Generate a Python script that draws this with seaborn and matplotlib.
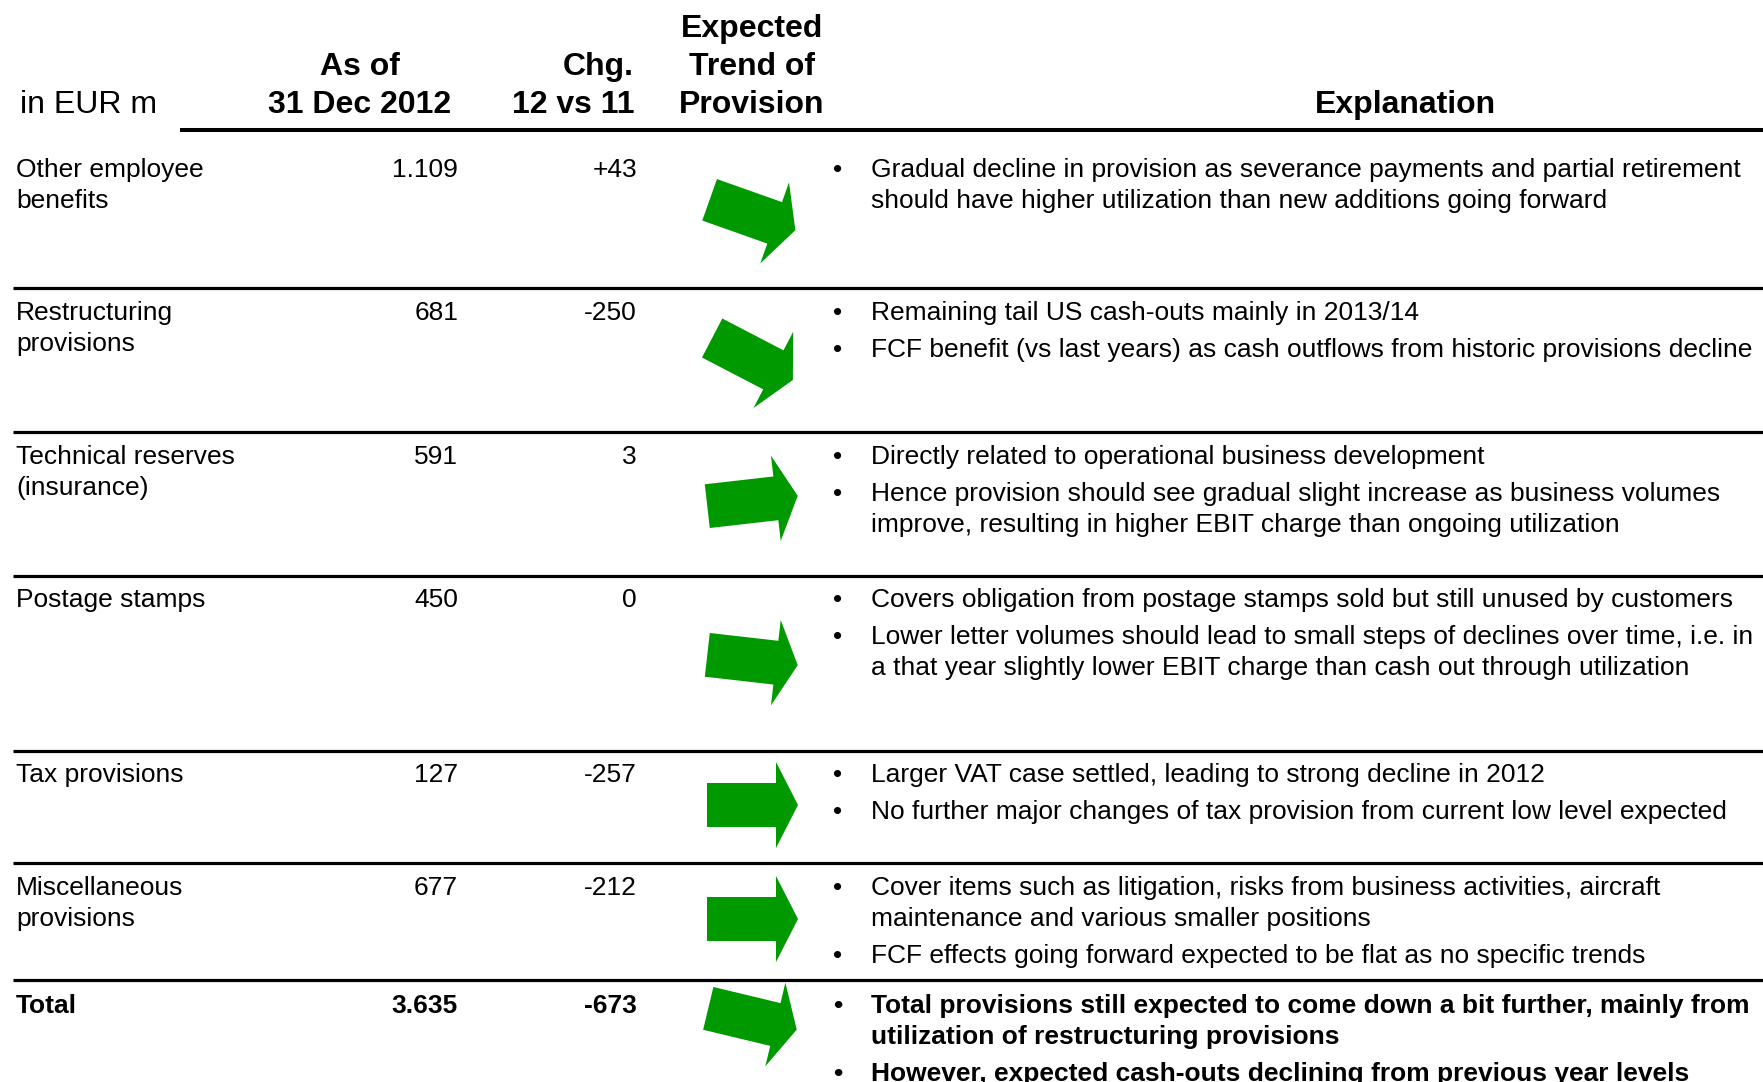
import numpy as np
import matplotlib
matplotlib.use("Agg")
import matplotlib.pyplot as plt
from matplotlib.patches import Polygon
import seaborn as sns

# ---- table content -------------------------------------------------------
categories = [
    ["Other employee", "benefits"],
    ["Restructuring", "provisions"],
    ["Technical reserves", "(insurance)"],
    ["Postage stamps"],
    ["Tax provisions"],
    ["Miscellaneous", "provisions"],
    ["Total"],
]
provision_2012 = [1109, 681, 591, 450, 127, 677, 3635]          # EUR m
change_labels = ["+43", "-250", "3", "0", "-257", "-212", "-673"]  # 12 vs 11
trend_angle = [-19.5, -27.5, 6.5, -6.5, 0.0, 0.0, -13.5]        # arrow direction, degrees

explanations = [
    [["Gradual decline in provision as severance payments and partial retirement",
      "should have higher utilization than new additions going forward"]],
    [["Remaining tail US cash-outs mainly in 2013/14"],
     ["FCF benefit (vs last years) as cash outflows from historic provisions decline"]],
    [["Directly related to operational business development"],
     ["Hence provision should see gradual slight increase as business volumes",
      "improve, resulting in higher EBIT charge than ongoing utilization"]],
    [["Covers obligation from postage stamps sold but still unused by customers"],
     ["Lower letter volumes should lead to small steps of declines over time, i.e. in",
      "a that year slightly lower EBIT charge than cash out through utilization"]],
    [["Larger VAT case settled, leading to strong decline in 2012"],
     ["No further major changes of tax provision from current low level expected"]],
    [["Cover items such as litigation, risks from business activities, aircraft",
      "maintenance and various smaller positions"],
     ["FCF effects going forward expected to be flat as no specific trends"]],
    [["Total provisions still expected to come down a bit further, mainly from",
      "utilization of restructuring provisions"],
     ["However, expected cash-outs declining from previous year levels"]],
]


def fmt_eur(v):
    return f"{v:,}".replace(",", ".")


# ---- style ---------------------------------------------------------------
sns.set_theme(style="white", rc={"text.color": "black"})
plt.rcParams["font.family"] = ["Liberation Sans", "DejaVu Sans"]

W, H = 1763, 1082
fig = plt.figure(figsize=(W / 100, H / 100), dpi=100)
ax = fig.add_axes([0, 0, 1, 1])
ax.set_xlim(0, W)
ax.set_ylim(H, 0)
ax.axis("off")
sns.despine(ax=ax, left=True, bottom=True)

GREEN = "#009900"
INK = "black"
BODY = 19
HEAD = 23
LINE_STEP = 31
BULLET_GAP = 37

# column anchors (pixels)
X_LABEL = 16
X_VALUE = 458
X_CHG = 637
X_ARROW = 752.5
X_BULLET = 838
X_EXPL = 871

# ---- header --------------------------------------------------------------
hdr = dict(fontsize=HEAD, color=INK, va="baseline")
ax.text(20, 113, "in EUR m", ha="left", **hdr)
ax.text(360, 75, "As of", weight="bold", ha="center", **hdr)
ax.text(360, 113, "31 Dec 2012", weight="bold", ha="center", **hdr)
ax.text(634, 75, "Chg.", weight="bold", ha="right", **hdr)
ax.text(634, 113, "12 vs 11", weight="bold", ha="right", **hdr)
for yb, t in zip([37, 75, 113], ["Expected", "Trend of", "Provision"]):
    ax.text(752, yb, t, weight="bold", ha="center", **hdr)
ax.text(1405, 113, "Explanation", weight="bold", ha="center", **hdr)
ax.plot([180, W], [129.5, 129.5], color=INK, lw=2.9, solid_capstyle="butt")

# ---- rows ----------------------------------------------------------------
first_baseline = [177, 320, 464, 607, 782, 895, 1013]
separators = [288, 432, 576, 751, 863, 980]
arrow_y = [215, 359, 501, 660, 805, 919, 1019]

# arrow outline in local units (forward, up), centred on the arrow
arrow_shape = np.array([
    (-45.5, 22), (23.5, 22), (23.5, 43), (45.5, 0),
    (23.5, -43), (23.5, -22), (-45.5, -22),
])

for i, label_lines in enumerate(categories):
    is_total = i == len(categories) - 1
    txt = dict(fontsize=BODY, color=INK, va="baseline",
               weight="bold" if is_total else "normal")
    yb = first_baseline[i]

    for k, line in enumerate(label_lines):
        ax.text(X_LABEL, yb + k * LINE_STEP, line, ha="left", **txt)
    ax.text(X_VALUE, yb, fmt_eur(provision_2012[i]), ha="right", **txt)
    ax.text(X_CHG, yb, change_labels[i], ha="right", **txt)

    # trend arrow
    th = np.deg2rad(trend_angle[i])
    u, v = arrow_shape[:, 0], arrow_shape[:, 1]
    px = X_ARROW + u * np.cos(th) - v * np.sin(th)
    py = arrow_y[i] - (u * np.sin(th) + v * np.cos(th))
    ax.add_patch(Polygon(np.column_stack([px, py]), closed=True,
                         facecolor=GREEN, edgecolor="none"))

    # bullet explanations
    y = yb
    for b, bullet in enumerate(explanations[i]):
        if b > 0:
            y += BULLET_GAP
        ax.text(X_BULLET, y, "\u2022", ha="center", **txt)
        for k, line in enumerate(bullet):
            if k > 0:
                y += LINE_STEP
            ax.text(X_EXPL, y, line, ha="left", **txt)

for ys in separators:
    ax.plot([13, W], [ys, ys], color=INK, lw=2.3, solid_capstyle="butt")

fig.savefig("out.png", dpi=100, facecolor="white")
